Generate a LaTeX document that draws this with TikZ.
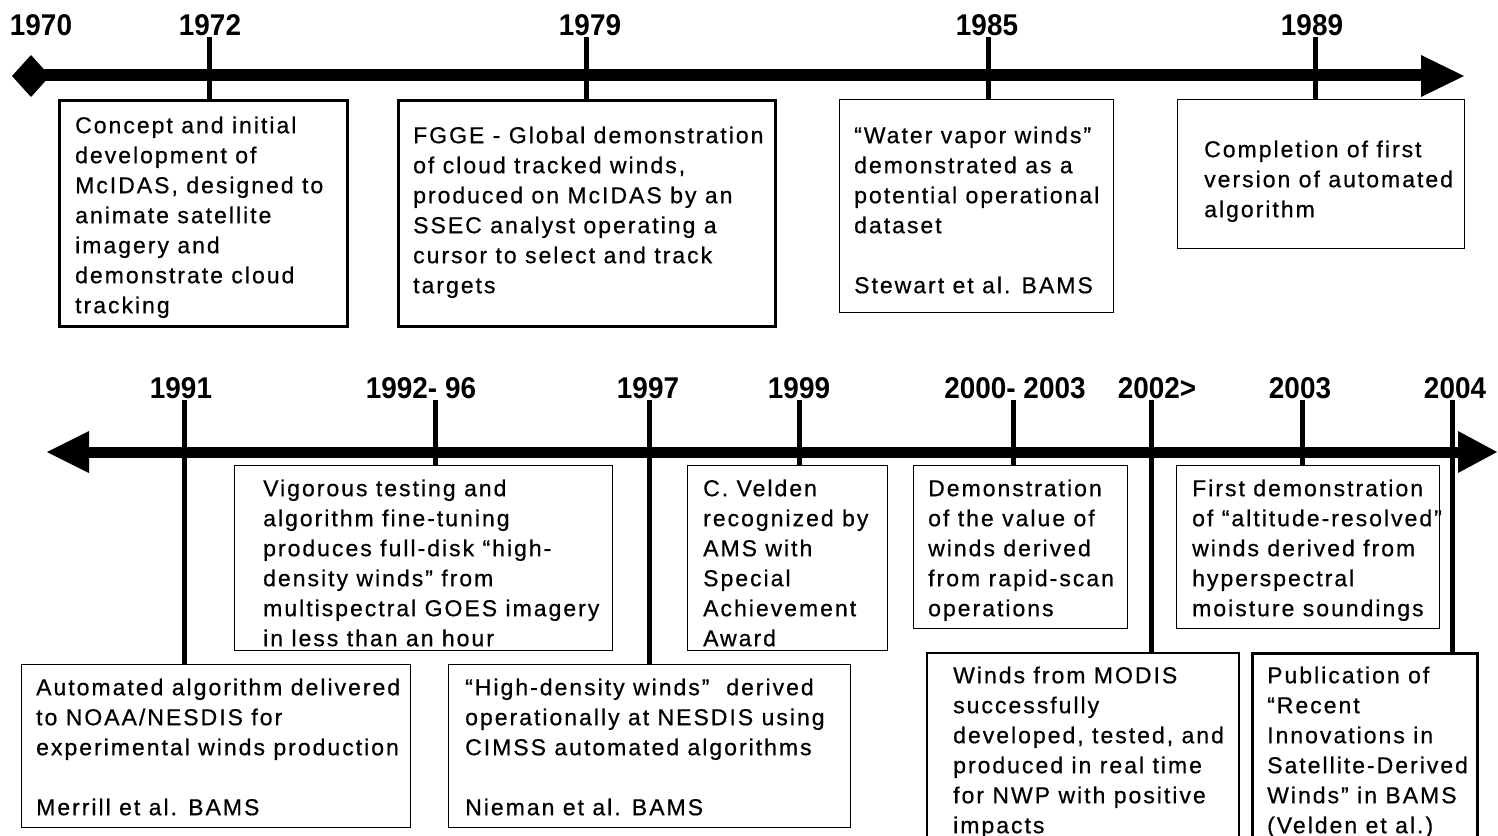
\documentclass[tikz,border=0pt]{standalone}
\usepackage{fontspec}
\setmainfont{Liberation Sans}
\newfontfamily\boxfont{Liberation Sans}[LetterSpace=8.7,FakeBold=0.6]
\newfontfamily\yearfont{Liberation Sans Bold}[FakeStretch=0.93]
\usetikzlibrary{calc}
\begin{document}
\begin{tikzpicture}[x=1pt,y=-1pt,
  boxthin/.style={draw, line width=1.3pt, inner sep=0pt, anchor=north west},
  boxmid/.style={draw, line width=2pt, inner sep=0pt, anchor=north west},
  boxthick/.style={draw, line width=2.6pt, inner sep=0pt, anchor=north west},
  txt/.style={inner sep=0pt, anchor=north west, align=left, font=\boxfont\fontsize{23}{30}\selectfont},
  year/.style={inner sep=0pt, anchor=base, font=\yearfont\fontsize{30}{32}\selectfont},
  tick/.style={line width=5pt},
  axis/.style={line width=12pt}
]
\fill[white] (0,0) rectangle (1498,835);
\useasboundingbox (0,0) rectangle (1498,835);

% ---------- top timeline ----------
\coordinate (a0) at (31,75);
\coordinate (a1) at (1423,75);
\draw[axis] (a0) -- (a1);
\fill (12,76) -- (31,55) -- (50,76) -- (31,97) -- cycle;
\fill (1421,55) -- (1464,76) -- (1421,97) -- cycle;

\node[year] (y1970) at (41,35) {1970};
\node[year] (y1972) at (210,35) {1972};
\node[year] (y1979) at (590,35) {1979};
\node[year] (y1985) at (987,35) {1985};
\node[year] (y1989) at (1312,35) {1989};

\node[boxthick, minimum width=288, minimum height=226] (b1972) at (58,99) {};
\node[boxthick, minimum width=377, minimum height=226] (b1979) at (397,99) {};
\node[boxthin, minimum width=274, minimum height=213] (b1985) at (839,99) {};
\node[boxthin, minimum width=287, minimum height=149] (b1989) at (1177,99) {};

\coordinate (k1972) at (209,37);
\coordinate (k1979) at (586,37);
\coordinate (k1985) at (988,37);
\coordinate (k1989) at (1315,37);
\draw[tick] (k1972) -- (k1972 |- b1972.north);
\draw[tick] (k1979) -- (k1979 |- b1979.north);
\draw[tick] (k1985) -- (k1985 |- b1985.north);
\draw[tick] (k1989) -- (k1989 |- b1989.north);

\node[txt] (x1972) at (75,113) {\rule{0pt}{20pt}Concept and initial\\development of\\McIDAS, designed to\\animate satellite\\imagery and\\demonstrate cloud\\tracking};
\node[txt] (x1979) at (413,123) {\rule{0pt}{20pt}FGGE - Global demonstration\\of cloud tracked winds,\\produced on McIDAS by an\\SSEC analyst operating a\\cursor to select and track\\targets};
\node[txt] (x1985) at (854,123) {\rule{0pt}{20pt}“Water vapor winds”\\demonstrated as a\\potential operational\\dataset\\[30pt]Stewart et al. BAMS};
\node[txt] (x1989) at (1204,137) {\rule{0pt}{20pt}Completion of first\\version of automated\\algorithm};

% ---------- bottom timeline ----------
\coordinate (c0) at (88,452);
\coordinate (c1) at (1459,452);
\draw[axis, line width=11pt] (c0) -- (c1);
\fill (47,452) -- (89,431) -- (89,473) -- cycle;
\fill (1497,452) -- (1458,431) -- (1458,473) -- cycle;

\node[year] (y1991) at (181,398) {1991};
\node[year] (y1992) at (421,398) {1992- 96};
\node[year] (y1997) at (648,398) {1997};
\node[year] (y1999) at (799,398) {1999};
\node[year] (y2000) at (1015,398) {2000- 2003};
\node[year] (y2002) at (1157,398) {2002>};
\node[year] (y2003) at (1300,398) {2003};
\node[year] (y2004) at (1455,398) {2004};

\node[boxthin, minimum width=389, minimum height=163] (b1991) at (21,664) {};
\node[boxthin, minimum width=378, minimum height=185] (b1992) at (234,465) {};
\node[boxthin, minimum width=402, minimum height=163] (b1997) at (448,664) {};
\node[boxthin, minimum width=200, minimum height=185] (b1999) at (687,465) {};
\node[boxthin, minimum width=214, minimum height=163] (b2000) at (913,465) {};
\node[boxmid, minimum width=312, minimum height=200] (b2002) at (926,652) {};
\node[boxthin, minimum width=263, minimum height=163] (b2003) at (1176,465) {};
\node[boxthick, minimum width=225, minimum height=200] (b2004) at (1251,652) {};

\coordinate (k1991) at (184,400);
\coordinate (k1992) at (435,400);
\coordinate (k1997) at (649,400);
\coordinate (k1999) at (799,400);
\coordinate (k2000) at (1013,400);
\coordinate (k2002) at (1151,400);
\coordinate (k2003) at (1302,400);
\coordinate (k2004) at (1452,400);
\draw[tick] (k1991) -- (k1991 |- b1991.north);
\draw[tick] (k1992) -- (k1992 |- b1992.north);
\draw[tick] (k1997) -- (k1997 |- b1997.north);
\draw[tick] (k1999) -- (k1999 |- b1999.north);
\draw[tick] (k2000) -- (k2000 |- b2000.north);
\draw[tick] (k2002) -- (k2002 |- b2002.north);
\draw[tick] (k2003) -- (k2003 |- b2003.north);
\draw[tick] (k2004) -- (k2004 |- b2004.north);

\node[txt] (x1991) at (36,675) {\rule{0pt}{20pt}Automated algorithm delivered\\to NOAA/NESDIS for\\experimental winds production\\[30pt]Merrill et al. BAMS};
\node[txt] (x1992) at (263,476) {\rule{0pt}{20pt}Vigorous testing and\\algorithm fine-tuning\\produces full-disk “high-\\density winds” from\\multispectral GOES imagery\\in less than an hour};
\node[txt] (x1997) at (465,675) {\rule{0pt}{20pt}“High-density winds”\ \ derived\\operationally at NESDIS using\\CIMSS automated algorithms\\[30pt]Nieman et al. BAMS};
\node[txt] (x1999) at (703,476) {\rule{0pt}{20pt}C. Velden\\recognized by\\AMS with\\Special\\Achievement\\Award};
\node[txt] (x2000) at (928,476) {\rule{0pt}{20pt}Demonstration\\of the value of\\winds derived\\from rapid-scan\\operations};
\node[txt] (x2002) at (953,663) {\rule{0pt}{20pt}Winds from MODIS\\successfully\\developed, tested, and\\produced in real time\\for NWP with positive\\impacts};
\node[txt] (x2003) at (1192,476) {\rule{0pt}{20pt}First demonstration\\of “altitude-resolved”\\winds derived from\\hyperspectral\\moisture soundings};
\node[txt] (x2004) at (1267,663) {\rule{0pt}{20pt}Publication of\\“Recent\\Innovations in\\Satellite-Derived\\Winds” in BAMS\\(Velden et al.)};
\end{tikzpicture}
\end{document}
